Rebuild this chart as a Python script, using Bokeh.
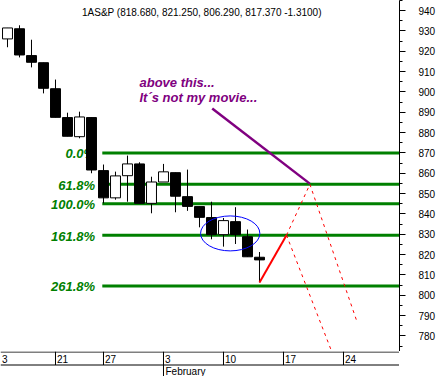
from bokeh.plotting import figure
from bokeh.layouts import column
from bokeh.models import Range1d, SingleIntervalTicker, Span
from bokeh.core.properties import value
from bokeh.embed import file_html
from bokeh.resources import INLINE

# Daily S&P 500 bars, trading-day index 0 = Jan 14
day_idx = list(range(22))
opens = [926.1, 931.1, 917.9, 914.4, 901.6, 887.4, 878.0, 887.4, 861.3, 847.9, 858.8,
         864.6, 845.2, 855.7, 860.3, 848.5, 843.6, 838.2, 829.8, 836.2, 828.8, 818.68]
highs = [931.5, 932.8, 925.7, 914.4, 906.1, 889.8, 890.3, 887.4, 864.3, 860.8, 868.7,
         865.4, 858.3, 864.6, 860.3, 861.8, 843.6, 846.0, 838.0, 843.3, 832.3, 821.25]
lows = [922.0, 917.0, 912.1, 899.3, 887.5, 878.2, 877.2, 860.0, 845.2, 847.0, 846.0,
        845.2, 840.3, 855.7, 840.8, 841.5, 833.4, 827.5, 823.9, 825.2, 818.9, 806.29]
closes = [931.5, 918.2, 914.6, 901.8, 887.5, 878.2, 887.7, 861.6, 847.9, 858.7, 864.6,
          845.2, 855.7, 860.7, 848.7, 843.7, 838.3, 829.8, 836.7, 829.8, 818.9, 817.37]

# Fibonacci levels and their labels
fib_levels = [870.0, 854.55, 845.0, 829.55, 804.55]
fib_labels = ["0.0%", "61.8%", "100.0%", "161.8%", "261.8%"]
fib_start = 7.9
fib_label_x = 7.3

# Projected paths (trading-day index, price)
proj_solid_x = [21.0, 23.25]
proj_solid_y = [806.29, 829.55]
proj_up_x = [23.25, 25.2]
proj_up_y = [829.55, 854.55]
proj_down_a_x = [23.25, 27.3]
proj_down_a_y = [829.55, 768.0]
proj_down_b_x = [25.2, 29.14]
proj_down_b_y = [854.55, 786.7]

# Resistance line and note
resist_x = [17.06, 25.19]
resist_y = [891.9, 854.9]
note_x = [11.0, 11.0]
note_y = [904.7, 897.4]
note_text = ["above this...", "It\u00b4s not my movie..."]

# Consolidation ellipse
ell_x, ell_y, ell_w, ell_h = 18.56, 830.4, 4.94, 17.2

# Date axis
tick_idx = [-1, 4, 8, 13, 18, 23, 28]
tick_labels = ["3", "21", "27", "3", "10", "17", "24"]
month_idx = [13]
month_labels = ["February"]

X0, X1 = -0.583, 32.667
Y0, Y1 = 772.3, 945.0

FONT = "Liberation Sans"

p = figure(frame_width=399, frame_height=351,
           x_range=Range1d(X0, X1), y_range=Range1d(Y0, Y1),
           output_backend="svg", toolbar_location=None, min_border=0,
           x_axis_location=None, y_axis_location="right")
p.xgrid.visible = False
p.ygrid.visible = False
p.outline_line_color = None
p.background_fill_color = "white"
p.border_fill_color = "white"

ax = p.yaxis[0]
ax.ticker = SingleIntervalTicker(interval=10, num_minor_ticks=2)
ax.major_tick_out = 6
ax.major_tick_in = 0
ax.minor_tick_out = 3
ax.minor_tick_in = 0
ax.major_label_standoff = 13
ax.major_label_text_font = FONT
ax.major_label_text_font_size = "10px"
ax.major_label_text_color = "black"
ax.axis_line_color = "black"
ax.major_tick_line_color = "black"
ax.minor_tick_line_color = "black"

# Fibonacci lines
p.segment(x0=[fib_start] * len(fib_levels), y0=fib_levels,
          x1=[X1 + 1] * len(fib_levels), y1=fib_levels,
          line_color="#008000", line_width=3)
p.text(x=[fib_label_x] * len(fib_levels), y=fib_levels, text=fib_labels,
       text_align="right", text_baseline="middle", y_offset=1,
       text_font=value(FONT), text_font_style="bold italic",
       text_font_size="13px", text_color="#008000")

# Candlesticks
body_top = [max(o, c) for o, c in zip(opens, closes)]
body_bot = [min(o, c) for o, c in zip(opens, closes)]
body_fill = ["white" if c > o else "black" for o, c in zip(opens, closes)]
p.segment(x0=day_idx, y0=lows, x1=day_idx, y1=highs, line_color="black", line_width=1)
p.vbar(x=day_idx, width=0.83, top=body_top, bottom=body_bot,
       fill_color=body_fill, line_color="black", line_width=1)

# Ellipse around consolidation
p.ellipse(x=[ell_x], y=[ell_y], width=[ell_w], height=[ell_h],
          fill_alpha=0, line_color="blue", line_width=1)

# Resistance line and note
p.line(resist_x, resist_y, line_color="#800080", line_width=2.5)
p.text(x=note_x, y=note_y, text=note_text, text_baseline="alphabetic",
       text_font=value(FONT), text_font_style="bold italic",
       text_font_size="13px", text_color="#800080")

# Projections
p.line(proj_solid_x, proj_solid_y, line_color="red", line_width=2)
for xs, ys in [(proj_up_x, proj_up_y), (proj_down_a_x, proj_down_a_y),
               (proj_down_b_x, proj_down_b_y)]:
    p.line(xs, ys, line_color="red", line_width=1, line_dash="3 4")

# Header with the last bar's values
o, h, l, c = opens[-1], highs[-1], lows[-1], closes[-1]
header = f"1AS&P ({o:.3f}, {h:.3f}, {l:.3f}, {c:.3f} {c - o:.4f})"
p.text(x=[6.21], y=[938.9], text=[header], text_baseline="alphabetic",
       text_font=value(FONT), text_font_size="10px", text_color="black")

# Date axis strip
q = figure(frame_width=399, frame_height=25,
           x_range=p.x_range, y_range=Range1d(25, 0),
           output_backend="svg", toolbar_location=None, min_border=0,
           x_axis_location=None, y_axis_location=None)
q.xgrid.visible = False
q.ygrid.visible = False
q.outline_line_color = None
q.add_layout(Span(location=0.5, dimension="width", line_color="black", line_width=1))
q.add_layout(Span(location=13.5, dimension="width", line_color="black", line_width=1))
q.segment(x0=tick_idx, y0=[0] * len(tick_idx), x1=tick_idx, y1=[13.5] * len(tick_idx),
          line_color="black", line_width=1)
# labels sit just right of their separator; the first one starts at the left edge
label_x = [max(t, X0) for t in tick_idx]
q.text(x=label_x, y=[7] * len(tick_idx), text=tick_labels, x_offset=1.5,
       text_align="left", text_baseline="middle",
       text_font=value(FONT), text_font_size="10px", text_color="black")
q.segment(x0=month_idx, y0=[13.5], x1=month_idx, y1=[25], line_color="black", line_width=1)
q.text(x=month_idx, y=[19.5], text=month_labels, x_offset=2,
       text_align="left", text_baseline="middle",
       text_font=value(FONT), text_font_size="10px", text_color="black")

layout = column(p, q, spacing=0)
open("out.html", "w").write(file_html(layout, INLINE))
